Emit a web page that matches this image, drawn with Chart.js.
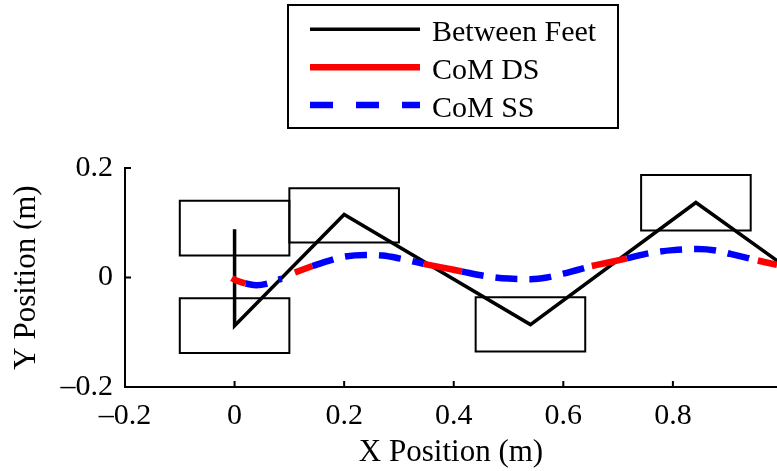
<!DOCTYPE html>
<html>
<head>
<meta charset="utf-8">
<title>Footstep plan and CoM path</title>
<script src="https://cdn.jsdelivr.net/npm/chart.js@4.4.1/dist/chart.umd.min.js"></script>
<style>
  html, body { margin: 0; padding: 0; background: #fff; }
  canvas { display: block; }
</style>
</head>
<body>
<canvas id="chartFootsteps" width="777" height="471"></canvas>
<script>
const xTicks = [-0.2, 0, 0.2, 0.4, 0.6, 0.8];
const xTickLabels = ["–0.2", "0", "0.2", "0.4", "0.6", "0.8"];
const yTicks = [-0.2, 0, 0.2];
const yTickLabels = ["–0.2", "0", "0.2"];

// zig-zag line joining the foot centres
const feetX = [0, 0, 0.2, 0.54, 0.842, 1.14];
const feetY = [0.088, -0.088, 0.115, -0.086, 0.137, -0.077];

// foot outlines (m)
const footLeft = [-0.1, -0.1, 0.1, 0.44, 0.742];
const footRight = [0.1, 0.1, 0.3, 0.64, 0.942];
const footBottom = [0.04, -0.138, 0.064, -0.135, 0.086];
const footTop = [0.14, -0.038, 0.163, -0.036, 0.187];

// centre of mass path
const comX = [-0.005, 0.0, 0.02, 0.04, 0.06, 0.086, 0.11, 0.142, 0.17, 0.2, 0.24, 0.27, 0.3, 0.345, 0.38, 0.415,
  0.455, 0.5, 0.54, 0.57, 0.6, 0.652, 0.68, 0.716, 0.76, 0.8, 0.845, 0.88, 0.905, 0.955, 0.99, 1.02];
const comY = [-0.001, -0.004, -0.011, -0.014, -0.011, -0.002, 0.009, 0.021, 0.030, 0.038, 0.041, 0.040, 0.035, 0.025, 0.018, 0.011,
  0.003, -0.002, -0.003, 0.000, 0.007, 0.021, 0.027, 0.035, 0.045, 0.050, 0.052, 0.049, 0.043, 0.031, 0.023, 0.016];

// double support windows along x
const dsStart = [-0.005, 0.105, 0.345, 0.652, 0.955];
const dsEnd = [0.02, 0.142, 0.415, 0.716, 1.02];

const FONT = "Liberation Serif, Times New Roman, serif";

function inDS(x, strict) {
  return dsStart.some((s, i) => strict ? (x > s && x < dsEnd[i]) : (x >= s && x <= dsEnd[i]));
}

const feetData = feetX.map((x, i) => ({ x, y: feetY[i] }));
const dsData = comX.map((x, i) => ({ x, y: inDS(x, false) ? comY[i] : null }));
const ssData = comX.map((x, i) => ({ x, y: inDS(x, true) ? null : comY[i] }));

const footDatasets = footLeft.map((l, i) => ({
  label: "",
  data: [
    { x: l, y: footBottom[i] },
    { x: footRight[i], y: footBottom[i] },
    { x: footRight[i], y: footTop[i] },
    { x: l, y: footTop[i] },
    { x: l, y: footBottom[i] },
  ],
  showLine: true,
  borderColor: "#000",
  borderWidth: 2,
  borderCapStyle: "square",
  borderJoinStyle: "miter",
  pointRadius: 0,
  order: 5,
}));

// legend drawn MATLAB-style: framed box with line samples
const legendBox = {
  id: "legendBox",
  afterDraw(chart, args, opts) {
    const { ctx } = chart;
    const items = chart.data.datasets.filter(d => d.label);
    ctx.save();
    ctx.lineWidth = 2;
    ctx.strokeStyle = "#000";
    ctx.strokeRect(opts.left, opts.top, opts.width, opts.height);
    ctx.font = opts.font;
    ctx.fillStyle = "#000";
    ctx.textBaseline = "alphabetic";
    items.forEach((d, i) => {
      const y = opts.top + opts.firstRow + i * opts.rowGap;
      ctx.beginPath();
      ctx.lineWidth = d.borderWidth;
      ctx.strokeStyle = d.borderColor;
      ctx.lineCap = "butt";
      ctx.setLineDash(d.borderDash && d.borderDash.length ? opts.sampleDash : []);
      ctx.moveTo(opts.left + opts.sampleX, y);
      ctx.lineTo(opts.left + opts.sampleX + opts.sampleLength, y);
      ctx.stroke();
      ctx.setLineDash([]);
      ctx.fillText(d.label, opts.left + opts.textX, y + opts.textDrop);
    });
    ctx.restore();
  }
};

// tick marks pointing into the plot
const inwardTicks = {
  id: "inwardTicks",
  afterDatasetsDraw(chart) {
    const { ctx, chartArea: { left, bottom }, scales: { x, y } } = chart;
    ctx.save();
    ctx.strokeStyle = "#000";
    ctx.lineWidth = 2;
    ctx.beginPath();
    x.ticks.forEach(t => {
      const px = x.getPixelForValue(t.value);
      ctx.moveTo(px, bottom);
      ctx.lineTo(px, bottom - 6);
    });
    y.ticks.forEach(t => {
      const py = y.getPixelForValue(t.value);
      ctx.moveTo(left, py);
      ctx.lineTo(left + 6, py);
    });
    ctx.stroke();
    ctx.restore();
  }
};

const ctx = document.getElementById("chartFootsteps").getContext("2d");
const chart = new Chart(ctx, {
  type: "scatter",
  data: {
    datasets: [
      {
        label: "Between Feet",
        data: feetData,
        showLine: true,
        borderColor: "#000",
        borderWidth: 3.5,
        borderJoinStyle: "miter",
        pointRadius: 0,
        order: 3,
      },
      {
        label: "CoM DS",
        data: dsData,
        showLine: true,
        spanGaps: false,
        borderColor: "#ff0000",
        borderWidth: 6.5,
        cubicInterpolationMode: "monotone",
        pointRadius: 0,
        order: 1,
      },
      {
        label: "CoM SS",
        data: ssData,
        showLine: true,
        spanGaps: false,
        borderColor: "#0000ff",
        borderWidth: 6.5,
        borderDash: [22, 12],
        cubicInterpolationMode: "monotone",
        pointRadius: 0,
        order: 0,
      },
      ...footDatasets,
    ]
  },
  options: {
    responsive: false,
    devicePixelRatio: 1,
    animation: false,
    layout: { padding: { top: 168, right: 0, bottom: 0, left: 0 } },
    plugins: {
      legend: { display: false },
      tooltip: { enabled: false },
      legendBox: {
        left: 288, top: 5, width: 330, height: 123,
        firstRow: 24.3, rowGap: 37.9,
        sampleX: 22, sampleLength: 110, sampleDash: [23, 23],
        textX: 144, textDrop: 11.5,
        font: "30px " + FONT,
      },
    },
    scales: {
      x: {
        type: "linear",
        min: -0.2,
        max: 0.99,
        afterBuildTicks: scale => { scale.ticks = xTicks.map(value => ({ value })); },
        afterFit: scale => { scale.height = 84; },
        ticks: {
          color: "#000",
          padding: 11,
          font: { family: FONT, size: 30 },
          callback: (value, index) => xTickLabels[index],
        },
        grid: { drawOnChartArea: false, drawTicks: false },
        border: { display: true, color: "#000", width: 2 },
        title: {
          display: true,
          text: "X Position (m)",
          color: "#000",
          font: { family: FONT, size: 31 },
          padding: { top: 0, bottom: 0 },
        },
      },
      y: {
        type: "linear",
        min: -0.2,
        max: 0.2,
        afterBuildTicks: scale => { scale.ticks = yTicks.map(value => ({ value })); },
        afterFit: scale => { scale.width = 125; },
        ticks: {
          color: "#000",
          padding: 12,
          font: { family: FONT, size: 30 },
          callback: (value, index) => yTickLabels[index],
        },
        grid: { drawOnChartArea: false, drawTicks: false },
        border: { display: true, color: "#000", width: 2 },
        title: {
          display: true,
          text: "Y Position (m)",
          color: "#000",
          font: { family: FONT, size: 31 },
          padding: { top: 8, bottom: 0 },
        },
      },
    },
  },
  plugins: [legendBox, inwardTicks],
});
</script>
</body>
</html>
